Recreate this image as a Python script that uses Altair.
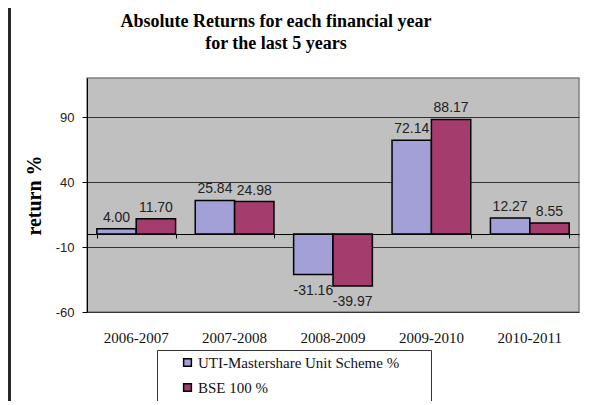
import altair as alt
import pandas as pd

years = ["2006-2007", "2007-2008", "2008-2009", "2009-2010", "2010-2011"]
series = ["UTI-Mastershare Unit Scheme %", "BSE 100 %"]
uti = [4.00, 25.84, -31.16, 72.14, 12.27]
bse = [11.70, 24.98, -39.97, 88.17, 8.55]
colors = ["#A2A0D6", "#A43C6E"]
y_ticks = [-60, -10, 40, 90]

rows = []
for i, yr in enumerate(years):
    rows.append({"year": yr, "series": series[0], "value": uti[i]})
    rows.append({"year": yr, "series": series[1], "value": bse[i]})
df = pd.DataFrame(rows)

W, H = 492, 234
PAD_TOP, PAD_BOTTOM = 70, 89
SERIF = "Liberation Serif"
SANS = "Liberation Sans"
FIX_MINUS = "replace(format(datum.value, '.2f'), '\u2212', '-')"
TAIL = "\u00a0" * 7 + "\u200b"

x_scale = alt.Scale(domain=years, paddingInner=0.2, paddingOuter=0.1)
y_enc = alt.Y("value:Q",
              scale=alt.Scale(domain=[-60, 120], nice=False, zero=False),
              axis=alt.Axis(values=y_ticks, title="return %", grid=True,
                            gridColor="#333333", gridWidth=1,
                            domainColor="#000000", tickColor="#000000",
                            tickSize=5, labelPadding=8, labelFont=SANS,
                            labelFontSize=13, labelColor="#222222",
                            labelExpr="replace(datum.label, '\u2212', '-')",
                            titleFont=SERIF, titleFontSize=20,
                            titleFontWeight="bold", titleColor="#000000",
                            titlePadding=11))
xo = alt.XOffset("series:N", scale=alt.Scale(domain=series))

bars = alt.Chart(df).mark_bar(stroke="#000000", strokeWidth=1.5).encode(
    x=alt.X("year:N", scale=x_scale,
            axis=alt.Axis(orient="bottom", title=None, ticks=False, domain=False,
                          labelAngle=0, labelFont=SERIF, labelFontSize=15,
                          labelColor="#111111", labelPadding=18)),
    xOffset=xo,
    y=y_enc,
    color=alt.Color("series:N", scale=alt.Scale(domain=series, range=colors),
                    legend=alt.Legend(orient="none", legendX=70, legendY=272,
                                      title=None, strokeColor="#333333",
                                      fillColor="#FFFFFF", padding=5,
                                      symbolType="square", symbolSize=60,
                                      symbolStrokeColor="#000000",
                                      symbolStrokeWidth=1.5, symbolOffset=18,
                                      labelOffset=3, labelFont=SERIF,
                                      labelFontSize=15, labelColor="#111111",
                                      labelLimit=500, rowPadding=9,
                                      labelExpr="datum.label + '" + TAIL + "'")),
)

zero_axis = alt.Axis(orient="bottom", title=None, labels=False, ticks=True,
                     tickBand="extent", tickSize=4, tickColor="#000000",
                     domain=True, domainColor="#000000", domainWidth=1,
                     offset=-78, zindex=1, grid=False)

pos = alt.Chart(df).transform_filter("datum.value >= 0").transform_calculate(
    lbl=FIX_MINUS
).mark_text(
    baseline="bottom", dy=-4, font=SANS, fontSize=14, color="#222222"
).encode(
    x=alt.X("year:N", scale=x_scale, axis=zero_axis),
    xOffset=xo, y=y_enc, text="lbl:N")

neg = alt.Chart(df).transform_filter("datum.value < 0").transform_calculate(
    lbl=FIX_MINUS
).mark_text(
    baseline="top", dy=9, font=SANS, fontSize=14, color="#222222"
).encode(
    x=alt.X("year:N", scale=x_scale, axis=None),
    xOffset=xo, y=y_enc, text="lbl:N")

border = alt.Chart(df).mark_rule(color="#222222", strokeWidth=1.5).encode(
    x=alt.value(-77.5), y=alt.value(-PAD_TOP), y2=alt.value(H + PAD_BOTTOM))

chart = alt.layer(bars, pos, neg, border).resolve_axis(x="independent").properties(
    width=W, height=H,
    autosize=alt.AutoSizeParams(type="none"),
    padding={"left": 79, "top": PAD_TOP, "right": 22, "bottom": PAD_BOTTOM},
    title=alt.TitleParams(["Absolute Returns for each financial year", "for the last 5 years"],
                          font=SERIF, fontSize=18, fontWeight="bold", color="#000000",
                          anchor="middle", dx=-57, offset=-46, lineHeight=22,
                          frame="group"),
).configure_view(fill="#C0C0C0", stroke="#808080", strokeWidth=1.5)

chart.save("out.html", embed_options={"renderer": "svg", "actions": False})
